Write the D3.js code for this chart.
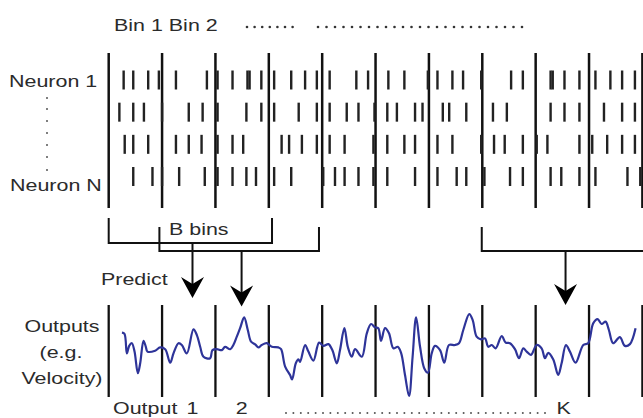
<!DOCTYPE html>
<html>
<head>
<meta charset="utf-8">
<script src="https://cdn.jsdelivr.net/npm/d3@7"></script>
<style>
  body { margin: 0; background: #fff; }
  svg { display: block; }
  text { font-family: "Liberation Sans", Arial, sans-serif; font-size: 16.5px; fill: #2b2b2b; }
</style>
</head>
<body>
<script>
// spike times (ms) per neuron row
const neurons = ['1', '2', '3', 'N'];
const spikes1 = [14, 23, 37, 47, 63, 92, 102, 116, 130, 132, 143, 155, 171, 184, 195, 207, 232, 243, 262, 277, 299, 308, 322, 332, 349, 377, 388, 414, 416, 427, 441, 456, 470, 481, 493];
const spikes2 = [10, 23, 33, 50, 75, 88, 102, 129, 143, 155, 178, 195, 207, 223, 234, 249, 261, 270, 287, 294, 313, 319, 335, 360, 373, 414, 427, 441, 464, 481, 493];
const spikes3 = [15, 23, 37, 63, 75, 87, 102, 116, 126, 162, 169, 181, 195, 207, 221, 248, 261, 277, 287, 308, 322, 349, 361, 371, 388, 401, 411, 441, 453, 467, 481, 493];
const spikesN = [23, 41, 50, 66, 90, 102, 116, 129, 138, 155, 171, 201, 212, 221, 234, 248, 261, 287, 308, 326, 335, 352, 376, 388, 414, 424, 441, 456, 486, 498];
const spikeRows = [spikes1, spikes2, spikes3, spikesN];

// bin edges (ms), 50 ms per bin
const binEdges = [0, 50, 100, 150, 200, 250, 300, 350, 400, 450, 500];

// decoded output trace (time ms, velocity a.u.)
const velT = [12.4, 14.8, 17.0, 19.2, 21.7, 24.2, 27.3, 29.5, 32.6, 34.8, 36.3, 43.5, 48.2, 52.9, 57.6, 60.7, 65.4, 68.5, 73.2, 79.4,
  82.6, 85.7, 88.8, 95.0, 97.2, 101.3, 106.0, 109.1, 113.8, 116.8, 120.0, 123.1, 126.9, 130.3, 133.4, 137.2, 140.3, 143.4, 148.1, 152.8,
  159.0, 161.5, 165.3, 169.9, 171.8, 175.3, 177.7, 179.3, 184.0, 187.1, 191.8, 197.1, 201.1, 205.8, 209.5, 213.7, 216.7, 220.8, 224.0, 227.7,
  230.8, 237.1, 241.8, 245.8, 249.5, 252.6, 255.1, 258.9, 262.6, 266.7, 270.8, 273.9, 277.6, 281.4, 284.7, 288.0, 291.7, 295.7, 299.1, 302.6,
  305.7, 310.4, 314.4, 318.8, 324.4, 328.2, 332.2, 337.8, 341.0, 344.7, 348.8, 352.5, 355.6, 358.8, 362.5, 368.2, 371.9, 375.9, 380.6, 384.4,
  388.4, 391.6, 395.6, 400.9, 405.6, 408.7, 411.8, 416.5, 421.1, 424.3, 428.4, 432.1, 437.4, 444.6, 449.2, 453.9, 458.0, 461.8, 465.5, 468.6,
  472.6, 478.9, 483.6, 488.3, 493.6];
const velV = [0.41, 0.37, -0.28, -0.03, 0.06, -0.22, -0.94, -0.61, 0.14, -0.06, -0.22, -0.19, -0.08, -0.14, -0.59, -0.28, 0.06, 0, -0.28, 0.52,
  0.33, -0.06, -0.39, -0.44, -0.17, -0.14, -0.17, -0.06, -0.14, 0, 0.28, 0.56, 0.92, 0.50, 0.11, 0.02, -0.08, 0, 0.06, -0.06,
  -0.08, -0.14, -0.72, -1.0, -1.15, -0.61, -0.48, -0.56, 0, -0.22, -0.52, 0.08, -0.03, 0.03, -0.17, -0.61, -0.17, 0.56, -0.06, -0.39,
  -0.14, -0.39, 0.39, 0.70, 0.59, 0.56, 0.14, 0.56, 0.39, -0.11, -0.06, -0.26, -1.0, -1.70, -0.40, 0.92, -0.06, -0.78, -0.92, -0.28,
  -0.03, -0.17, -0.59, 0, 0, 0.06, 0.50, 1.03, 0.83, 0.28, 0.19, 0.22, -0.06, 0, -0.11, 0.30, 0.08, 0.06, -0.14, -0.44,
  -0.11, -0.22, -0.33, 0, -0.11, -0.44, -0.26, -0.48, -1.0, -0.61, 0, -0.22, -0.59, 0, 0.06, 0.72, 0.86, 0.70, 0.78, 0.50,
  0.06, 0.26, -0.03, 0.03, 0.56];

// history windows (ms) feeding each prediction, and the predicted output times
const windowStart = [0, 47.5, 349.5];
const windowEnd = [153, 197, 510];
const outputTimes = [78.5, 124.5, 428];
const outputNames = ['1', '2', 'K'];

const width = 643;
const height = 418;

const svg = d3.select('body').append('svg').attr('width', width).attr('height', height);

const x = d3.scaleLinear().domain([0, 500]).range([108.7, 642.4]);
const row = d3.scalePoint().domain(neurons).range([80, 176.5]);
const y = d3.scaleLinear().domain([-2, 2]).range([405, 285]);

const label = (txt, px, py, anchor) => svg.append('text')
    .attr('transform', `translate(${px},${py}) scale(1.3,1)`)
    .attr('text-anchor', anchor || 'start')
    .text(txt);

// top panel: bin edges
svg.append('g').selectAll('line')
    .data(binEdges)
    .enter().append('line')
    .attr('x1', d => x(d)).attr('x2', d => x(d))
    .attr('y1', 53).attr('y2', 208)
    .attr('stroke', '#111').attr('stroke-width', 2.5);

// spikes
spikeRows.forEach((times, i) => {
    svg.append('g').selectAll('line')
        .data(times)
        .enter().append('line')
        .attr('x1', d => x(d)).attr('x2', d => x(d))
        .attr('y1', row(neurons[i]) - 9.5).attr('y2', row(neurons[i]) + 9.5)
        .attr('stroke', '#222').attr('stroke-width', 2.4);
});

label('Neuron 1', 9, 87);
label('Neuron N', 10, 191);
svg.append('g').selectAll('circle')
    .data([98, 109, 121, 133, 145, 157, 170])
    .enter().append('circle')
    .attr('cx', 47).attr('cy', d => d).attr('r', 1)
    .attr('fill', '#555');

label('Bin 1 Bin 2', 114, 31);
const topDots = d3.range(247, 300, 7.6).concat(d3.range(318, 524, 8.5));
svg.append('g').selectAll('circle')
    .data(topDots)
    .enter().append('circle')
    .attr('cx', d => d).attr('cy', 27).attr('r', 1.3)
    .attr('fill', '#333');

// brackets + arrows
const bracketTop = [218, 227, 227];
const bracketBottom = [243, 251, 251];
const arrowTip = [298, 306.5, 305];
windowStart.forEach((s, i) => {
    const x0 = x(s), x1 = x(windowEnd[i]);
    svg.append('path')
        .attr('d', `M${x0},${bracketTop[i]}V${bracketBottom[i]}H${x1}V${bracketTop[i]}`)
        .attr('fill', 'none').attr('stroke', '#111').attr('stroke-width', 2);
    const ax = x(outputTimes[i]);
    const tip = arrowTip[i];
    svg.append('line')
        .attr('x1', ax).attr('x2', ax)
        .attr('y1', bracketBottom[i]).attr('y2', tip - 12)
        .attr('stroke', '#111').attr('stroke-width', 2);
    svg.append('path')
        .attr('d', `M${ax},${tip}L${ax - 11.5},${tip - 21}L${ax},${tip - 14}L${ax + 11.5},${tip - 21}Z`)
        .attr('fill', '#000');
});

label('B bins', 169, 235);
label('Predict', 101, 285);

// bottom panel
svg.append('g').selectAll('line')
    .data(binEdges)
    .enter().append('line')
    .attr('x1', d => x(d)).attr('x2', d => x(d))
    .attr('y1', 305).attr('y2', 397)
    .attr('stroke', '#111').attr('stroke-width', 2.3);

const vel = velT.map((t, i) => ({ t: t, v: velV[i] }));
const line = d3.line()
    .x(d => x(d.t))
    .y(d => y(d.v))
    .curve(d3.curveCatmullRom.alpha(0.5));

svg.append('path')
    .datum(vel)
    .attr('d', line)
    .attr('fill', 'none')
    .attr('stroke', '#2e3499')
    .attr('stroke-width', 2.2)
    .attr('stroke-linejoin', 'round');

label('Outputs', 62, 332, 'middle');
label('(e.g.', 61, 358, 'middle');
label('Velocity)', 62, 384, 'middle');

label('Output', 113, 414);
outputNames.forEach((n, i) => label(n, x(outputTimes[i]) + (n === 'K' ? -2 : 0), 414, 'middle'));
const bottomDots = d3.range(286, 550, 7.4);
svg.append('g').selectAll('circle')
    .data(bottomDots)
    .enter().append('circle')
    .attr('cx', d => d).attr('cy', 413).attr('r', 1)
    .attr('fill', '#555');
</script>
</body>
</html>
